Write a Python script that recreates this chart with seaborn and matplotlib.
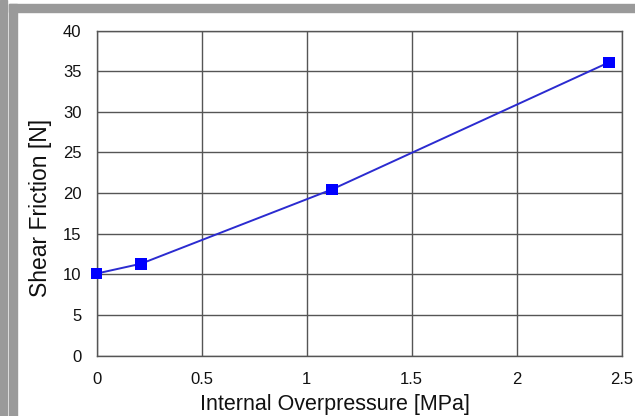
import matplotlib
matplotlib.use("Agg")
import matplotlib.pyplot as plt
from matplotlib.patches import Rectangle
import seaborn as sns
import pandas as pd

# Data
pressure = [0.0, 0.21, 1.12, 2.44]
friction = [10.1, 11.3, 20.45, 36.1]
x_ticks = [0, 0.5, 1, 1.5, 2, 2.5]
x_tick_labels = ["0", "0.5", "1", "1.5", "2", "2.5"]
y_ticks = [0, 5, 10, 15, 20, 25, 30, 35, 40]
x_label = "Internal Overpressure [MPa]"
y_label = "Shear Friction [N]"

df = pd.DataFrame({"p": pressure, "f": friction})

sns.set_theme(style="white")
plt.rcParams["font.family"] = ["Liberation Sans", "DejaVu Sans"]

W, H = 635, 416
fig = plt.figure(figsize=(W / 100, H / 100), dpi=100)
fig.patch.set_facecolor("white")

def px(x0, y0, w, h):
    return (x0 / W, 1 - (y0 + h) / H, w / W, h / H)

gray = "#9a9a9a"
for (x0, y0, w, h) in [(0, 0, 7.3, H), (8.7, 4, 8, H - 4), (8.7, 4, W - 8.7, 8)]:
    r = px(x0, y0, w, h)
    fig.patches.append(Rectangle(r[:2], r[2], r[3],
                                 transform=fig.transFigure, color=gray, zorder=0))

ax_l, ax_r, ax_t, ax_b = 96.7, 621.7, 30.6, 355.6
ax = fig.add_axes([ax_l / W, 1 - ax_b / H, (ax_r - ax_l) / W, (ax_b - ax_t) / H])
ax.set_facecolor("white")

sns.lineplot(data=df, x="p", y="f", ax=ax, color="#2b2bd0", lw=1.4, zorder=3)
sns.scatterplot(data=df, x="p", y="f", ax=ax, marker="s", s=68, color="#0000ff",
                edgecolor="none", zorder=4, clip_on=False)

ax.set_xlim(0, 2.5)
ax.set_ylim(0, 40)
ax.set_xticks(x_ticks)
ax.set_xticklabels(x_tick_labels)
ax.set_yticks(y_ticks)
ax.grid(True, color="#555555", lw=1.0)
ax.set_axisbelow(True)
for s in ax.spines.values():
    s.set_color("#555555")
    s.set_linewidth(1.0)
ax.tick_params(axis="both", length=0, labelsize=12, colors="#111111")
ax.tick_params(axis="y", pad=11)
ax.tick_params(axis="x", pad=12)
ax.set_xlabel(x_label, fontsize=15.5, color="#111111")
ax.set_ylabel(y_label, fontsize=16.5, color="#111111")
ax.xaxis.set_label_coords(0.453, -0.118)
ax.xaxis.label.set_va("top")
ax.yaxis.set_label_coords(-0.085, 0.453)

fig.savefig("out.png", dpi=100)
